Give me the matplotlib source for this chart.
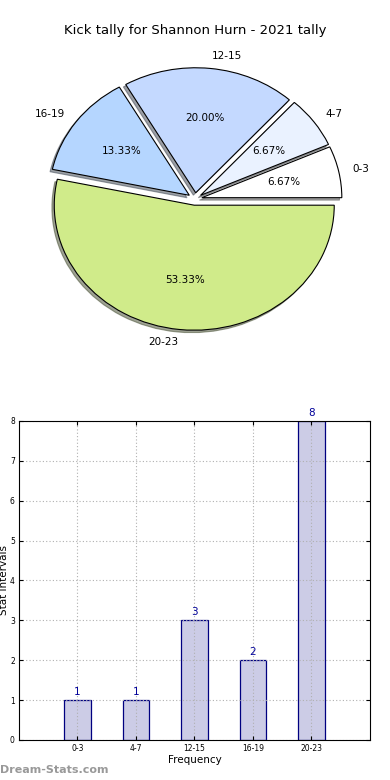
import numpy as np
import matplotlib
matplotlib.use("Agg")
import matplotlib.pyplot as plt

# ----- data -----
categories = ["0-3", "4-7", "12-15", "16-19", "20-23"]
counts = [1, 1, 3, 2, 8]
pie_colors = ["#ffffff", "#eaf2ff", "#c4d9ff", "#b5d6ff", "#d0eb8a"]
title = "Kick tally for Shannon Hurn - 2021 tally"

fig = plt.figure(figsize=(3.9, 7.8), dpi=100)

# ----- pie -----
ax1 = fig.add_axes([0.0692, 0.5526, 0.8615, 0.3846])
wedges, texts, autotexts = ax1.pie(
    counts, labels=categories, colors=pie_colors, explode=[0.05] * len(counts),
    autopct="%1.2f%%", shadow={"ox": -0.012, "oy": -0.014, "shade": 0.7},
    startangle=0,
    wedgeprops={"edgecolor": "black", "linewidth": 0.8},
    textprops={"fontsize": 7.5})
ax1.set_aspect("auto")
ax1.set_xlim(-1.2, 1.2)
ax1.set_ylim(-1.2, 1.2)
fig.text(0.5, 0.961, title, ha="center", va="center", fontsize=9.5)

# ----- bars -----
ax2 = fig.add_axes([0.0487, 0.0513, 0.9, 0.409])
x = np.arange(len(categories))
ax2.bar(x, counts, width=0.45, color="#ccccE6", edgecolor="#000080", linewidth=0.9, zorder=1)
for xi, c in zip(x, counts):
    ax2.text(xi, c + 0.08, str(c), ha="center", va="bottom", color="#000099", fontsize=7.5)
ax2.set_xlim(-1, 5)
ax2.set_ylim(0, 8)
ax2.set_xticks(x)
ax2.set_xticklabels(categories)
ax2.set_yticks(range(0, 9))
ax2.tick_params(direction="in", labelsize=5.5, length=3, top=True, right=True, pad=3)
ax2.set_axisbelow(False)
ax2.grid(True, linestyle=(0, (1, 2)), color="#b0b0b0", linewidth=0.8)
for sp in ax2.spines.values():
    sp.set_zorder(4)
ax2.set_xlabel("Frequency", fontsize=7.5, labelpad=1)
ax2.set_ylabel("Stat Intervals", fontsize=7.5, labelpad=1)
ax2.yaxis.set_label_coords(-0.028, 0.5)

fig.text(0.0, 0.0128, "Dream-Stats.com", ha="left", va="center", fontsize=8,
         color="#999999", fontweight="bold")

fig.savefig("out.png", dpi=100)
